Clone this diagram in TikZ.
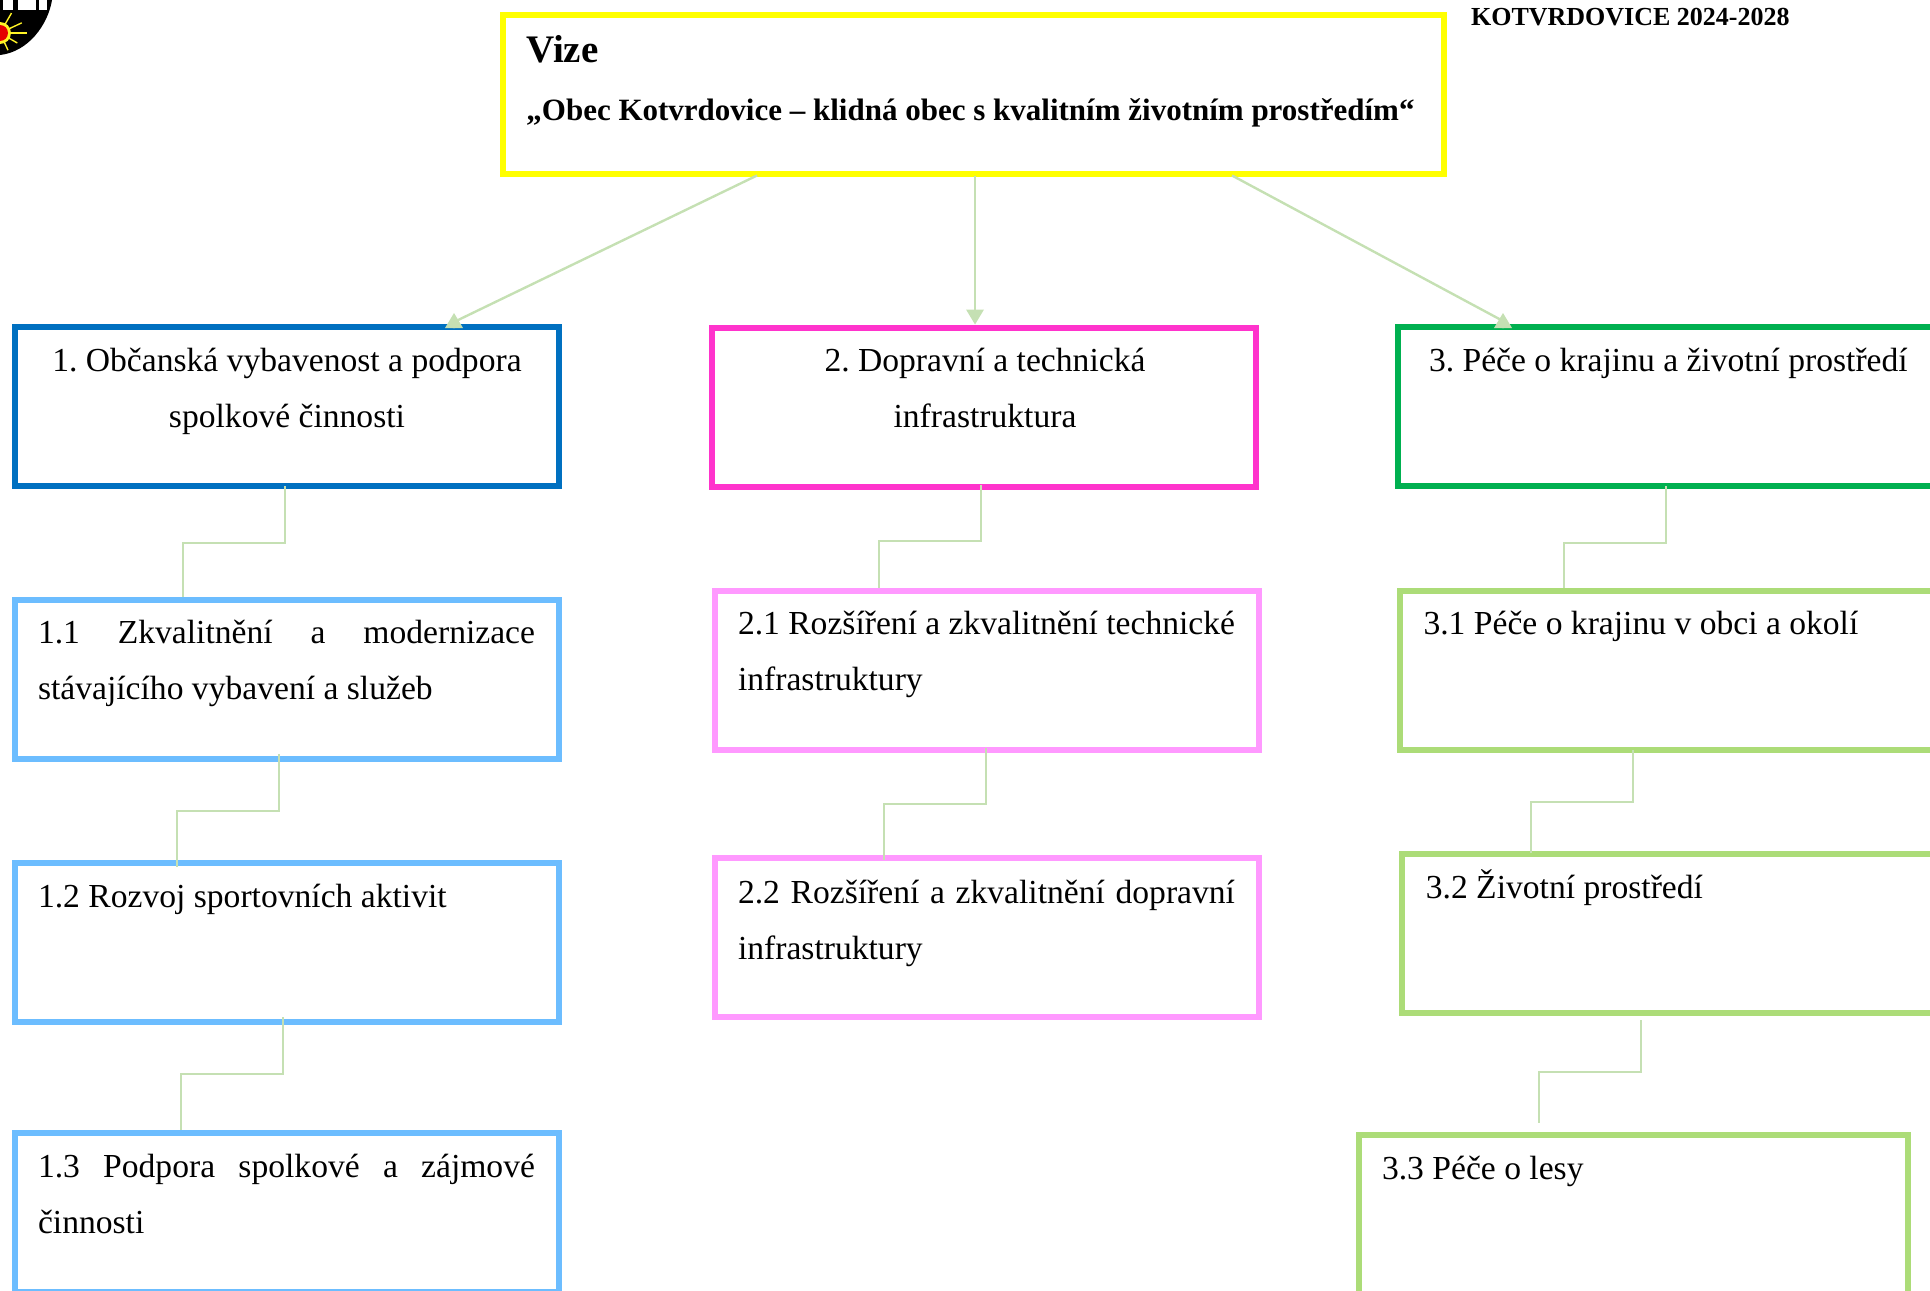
\documentclass[tikz,border=0pt]{standalone}
\usepackage{fontspec}
\setmainfont{Liberation Serif}
\usetikzlibrary{arrows.meta,calc}
\definecolor{cvis}{HTML}{FFFF00}
\definecolor{cblue}{HTML}{0070C0}
\definecolor{clblue}{HTML}{6CBDFF}
\definecolor{cmag}{HTML}{FF33CC}
\definecolor{cpink}{HTML}{FF99FF}
\definecolor{cgreen}{HTML}{00B050}
\definecolor{clgreen}{HTML}{ACDC78}
\definecolor{clink}{HTML}{C5E0B3}
\tikzset{
  x=0.5pt,y=-0.5pt,
  box/.style={draw=#1,line width=3pt,fill=white,inner sep=0pt,outer sep=0pt,minimum height=79.5pt,minimum width=272pt},
  link/.style={draw=clink,line width=1pt},
  tiplink/.style={draw=clink,line width=1.2pt,-{Triangle[length=7.5pt,width=9pt,fill=clink,line width=0pt]}},
  body/.style={inner sep=0pt,outer sep=0pt,anchor=base west,font=\frenchspacing\fontsize{16.8}{28}\selectfont,text width=#1,align=flush left},
  bodyc/.style={inner sep=0pt,outer sep=0pt,anchor=base,font=\frenchspacing\fontsize{16.8}{28}\selectfont,text width=#1,align=flush center},
}
\begin{document}
\begin{tikzpicture}
\useasboundingbox (0,0) rectangle (1930,1290);
\clip (0,0) rectangle (1930,1290);
% logo
\fill[black] (0,0) -- (52,0) .. controls (48,25) and (28,52) .. (0,55) -- cycle;
\fill[white] (3,0) rectangle (13,10);
\fill[white] (18,0) rectangle (36,10);
\fill[white] (39,0) rectangle (47,10);
\foreach \a/\r in {-60/23,-25/24,0/27,30/20,65/19}{
  \draw[yellow!85!white,line width=0.7pt] (0,33) -- ++(\a:\r);
}
\fill[yellow!85!white] (0,33) circle (11);
\fill[red!90!black] (0,33) circle (8);
% boxes
\node[box=cvis,minimum width=470.5pt] (vis) at (973.5,94) {};
\node[box=cblue] (b1) at (287,406.5) {};
\node[box=clblue] (b11) at (287,679.5) {};
\node[box=clblue] (b12) at (287,942.5) {};
\node[box=clblue] (b13) at (287,1212) {};
\node[box=cmag] (b2) at (984,407) {};
\node[box=cpink] (b21) at (986.5,670.5) {};
\node[box=cpink] (b22) at (986.5,937.5) {};
\node[box=cgreen] (b3) at (1670,406.5) {};
\node[box=clgreen] (b31) at (1672,670.5) {};
\node[box=clgreen] (b32) at (1674,933.5) {};
\node[box=clgreen,minimum width=274.5pt] (b33) at (1633.5,1214) {};
% top connectors
\draw[tiplink] ($(vis.south west)+(254,2)$) -- ($(b1.north west)+(439,-5)$) -- ($(b1.north west)+(439,-14)$);
\draw[tiplink] ($(vis.south west)+(472,2)$) -- ($(vis.south west)+(472,151)$);
\draw[tiplink] ($(vis.south west)+(729,2)$) -- ($(b3.north west)+(105,-6)$) -- ($(b3.north west)+(105,-14)$);
% elbows
\draw[link] ($(b1.south west)+(269.7,0)$) -- ++(0,56.7) -| ($(b11.north west)+(167.7,-3)$);
\draw[link] ($(b11.south west)+(263.8,-5)$) -- ++(0,56.7) -| ($(b12.north west)+(161.7,3.7)$);
\draw[link] ($(b12.south west)+(267.8,-5)$) -- ++(0,57) -| ($(b13.north west)+(165.6,-3)$);
\draw[link] ($(b2.south west)+(269.4,-2)$) -- ++(0,56.7) -| ($(b21.north west)+(164.8,-3)$);
\draw[link] ($(b21.south west)+(271.3,-2.3)$) -- ++(0,56) -| ($(b22.north west)+(169.2,2)$);
\draw[link] ($(b3.south west)+(267.9,0)$) -- ++(0,56.7) -| ($(b31.north west)+(163.8,-3)$);
\draw[link] ($(b31.south west)+(232.9,0)$) -- ++(0,51.7) -| ($(b32.north west)+(128.8,-1)$);
\coordinate (g32) at ($(b32.south west)+(238.7,7)$);
\coordinate (g33) at ($(b33.north west)+(179.7,-12)$);
\draw[link] (g32) -- ++(0,52) -| (g33);
% texts
\node[inner sep=0pt,anchor=base west,font=\fontsize{19.5}{22}\selectfont\bfseries] (tvis) at (526,62.6) {Vize};
\node[inner sep=0pt,anchor=base west,font=\fontsize{15.5}{18}\selectfont\bfseries] (tvis2) at (526,120.6) {„Obec Kotvrdovice – klidná obec s kvalitním životním prostředím“};
\node[inner sep=0pt,anchor=base west,font=\fontsize{13}{15}\selectfont\bfseries] (thead) at (1470.7,25.7) {KOTVRDOVICE 2024-2028};
\node[bodyc=272pt] (t1) at (287,371.7) {1. Občanská vybavenost a podpora\\spolkové činnosti};
\node[body=248.5pt] (t11) at (38,643.7) {\makebox[248.5pt][s]{1.1 Zkvalitnění a modernizace}\\stávajícího vybavení a služeb};
\node[body=248.5pt] (t12) at (38,907) {1.2 Rozvoj sportovních aktivit};
\node[body=248.5pt] (t13) at (38,1177) {\makebox[248.5pt][s]{1.3 Podpora spolkové a zájmové}\\činnosti};
\node[bodyc=272pt] (t2) at (985,371.7) {2. Dopravní a technická\\infrastruktura};
\node[body=248.5pt] (t21) at (738,634) {\makebox[248.5pt][s]{2.1 Rozšíření a zkvalitnění technické}\\infrastruktury};
\node[body=248.5pt] (t22) at (738,903) {\makebox[248.5pt][s]{2.2 Rozšíření a zkvalitnění dopravní}\\infrastruktury};
\node[body=262pt] (t3) at (1429,371.7) {3. Péče o krajinu a životní prostředí};
\node[body=248.5pt] (t31) at (1423.5,634) {3.1 Péče o krajinu v obci a okolí};
\node[body=248.5pt] (t32) at (1425.8,898.7) {3.2 Životní prostředí};
\node[body=248.5pt] (t33) at (1382,1179.7) {3.3 Péče o lesy};
\end{tikzpicture}
\end{document}
